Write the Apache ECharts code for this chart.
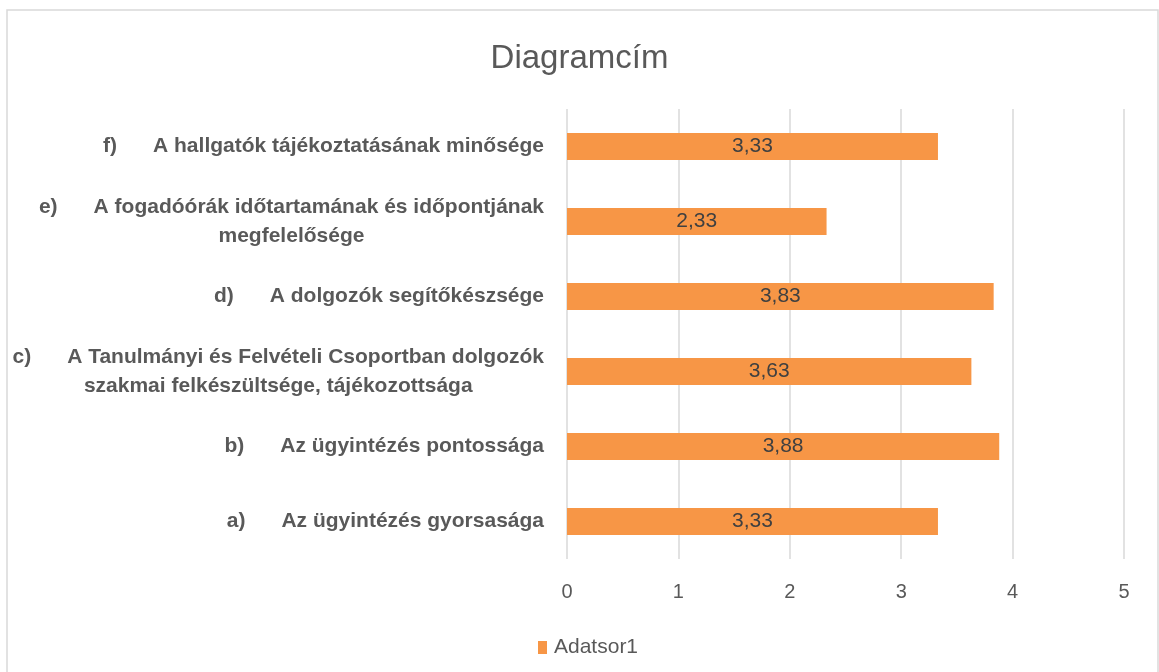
<!DOCTYPE html>
<html>
<head>
<meta charset="utf-8">
<script src="https://cdn.jsdelivr.net/npm/echarts@6/dist/echarts.min.js"></script>
<style>
html,body{margin:0;padding:0;background:#fff;}
#chart{width:1159px;height:672px;}
</style>
</head>
<body>
<div id="chart"></div>
<script>
const chartTitle = 'Diagramcím';
const seriesName = 'Adatsor1';
const prefixes = ['a)', 'b)', 'c)', 'd)', 'e)', 'f)'];
const categoryTexts = [
  'Az ügyintézés gyorsasága',
  'Az ügyintézés pontossága',
  'A Tanulmányi és Felvételi Csoportban dolgozók\nszakmai felkészültsége, tájékozottsága',
  'A dolgozók segítőkészsége',
  'A fogadóórák időtartamának és időpontjának\nmegfelelősége',
  'A hallgatók tájékoztatásának minősége'
];
const values = [3.33, 3.88, 3.63, 3.83, 2.33, 3.33];
const xTicks = [0, 1, 2, 3, 4, 5];

const categories = categoryTexts.map((t, i) => prefixes[i] + ' ' + t);

const chart = echarts.init(document.getElementById('chart'), null, {renderer: 'canvas'});
const FONT = '"Liberation Sans", Arial, sans-serif';

chart.setOption({
  backgroundColor: '#ffffff',
  animation: false,
  title: {
    text: chartTitle,
    left: 'center',
    top: 37,
    textStyle: {fontFamily: FONT, fontSize: 33, fontWeight: 'normal', color: '#595959'}
  },
  graphic: [{
    type: 'rect',
    shape: {x: 7, y: 10, width: 1151, height: 700},
    style: {fill: 'none', stroke: '#d9d9d9', lineWidth: 1.5},
    silent: true
  }],
  legend: {
    data: [seriesName],
    left: 533,
    top: 632,
    icon: 'rect',
    itemWidth: 9,
    itemHeight: 13,
    itemGap: 10,
    itemStyle: {color: '#F79646'},
    textStyle: {fontFamily: FONT, fontSize: 21, color: '#595959', padding: [0, 0, 0, 2]}
  },
  grid: {left: 567, right: 35, top: 109, bottom: 113, containLabel: false},
  xAxis: {
    type: 'value',
    min: xTicks[0],
    max: xTicks[xTicks.length - 1],
    interval: 1,
    axisLine: {show: false},
    axisTick: {show: false},
    splitLine: {show: true, lineStyle: {color: '#d9d9d9', width: 1.5}},
    axisLabel: {fontFamily: FONT, fontSize: 20, color: '#595959', margin: 23}
  },
  yAxis: {
    type: 'category',
    data: categories,
    axisLine: {show: false},
    axisTick: {show: false},
    splitLine: {show: false},
    axisLabel: {
      margin: 23,
      align: 'right',
      interval: 0,
      formatter: function (val) {
        const sp = val.indexOf(' ');
        const pre = val.slice(0, sp);
        const rest = val.slice(sp + 1).split('\n');
        let s = '{p|' + pre + '}{t|' + rest[0] + '}';
        for (let k = 1; k < rest.length; k++) s += '\n{t|' + rest[k] + '}';
        return s;
      },
      rich: {
        p: {fontFamily: FONT, fontSize: 21, fontWeight: 'bold', color: '#595959', align: 'center', padding: [0, 36, 0, 0], lineHeight: 29},
        t: {fontFamily: FONT, fontSize: 21, fontWeight: 'bold', color: '#595959', align: 'center', lineHeight: 29}
      }
    }
  },
  series: [{
    name: seriesName,
    type: 'bar',
    data: values,
    barWidth: 27,
    itemStyle: {color: '#F79646'},
    label: {
      show: true,
      position: 'inside',
      fontFamily: FONT,
      fontSize: 21,
      color: '#404040',
      formatter: p => p.value.toFixed(2).replace('.', ',')
    }
  }]
});
</script>
</body>
</html>
